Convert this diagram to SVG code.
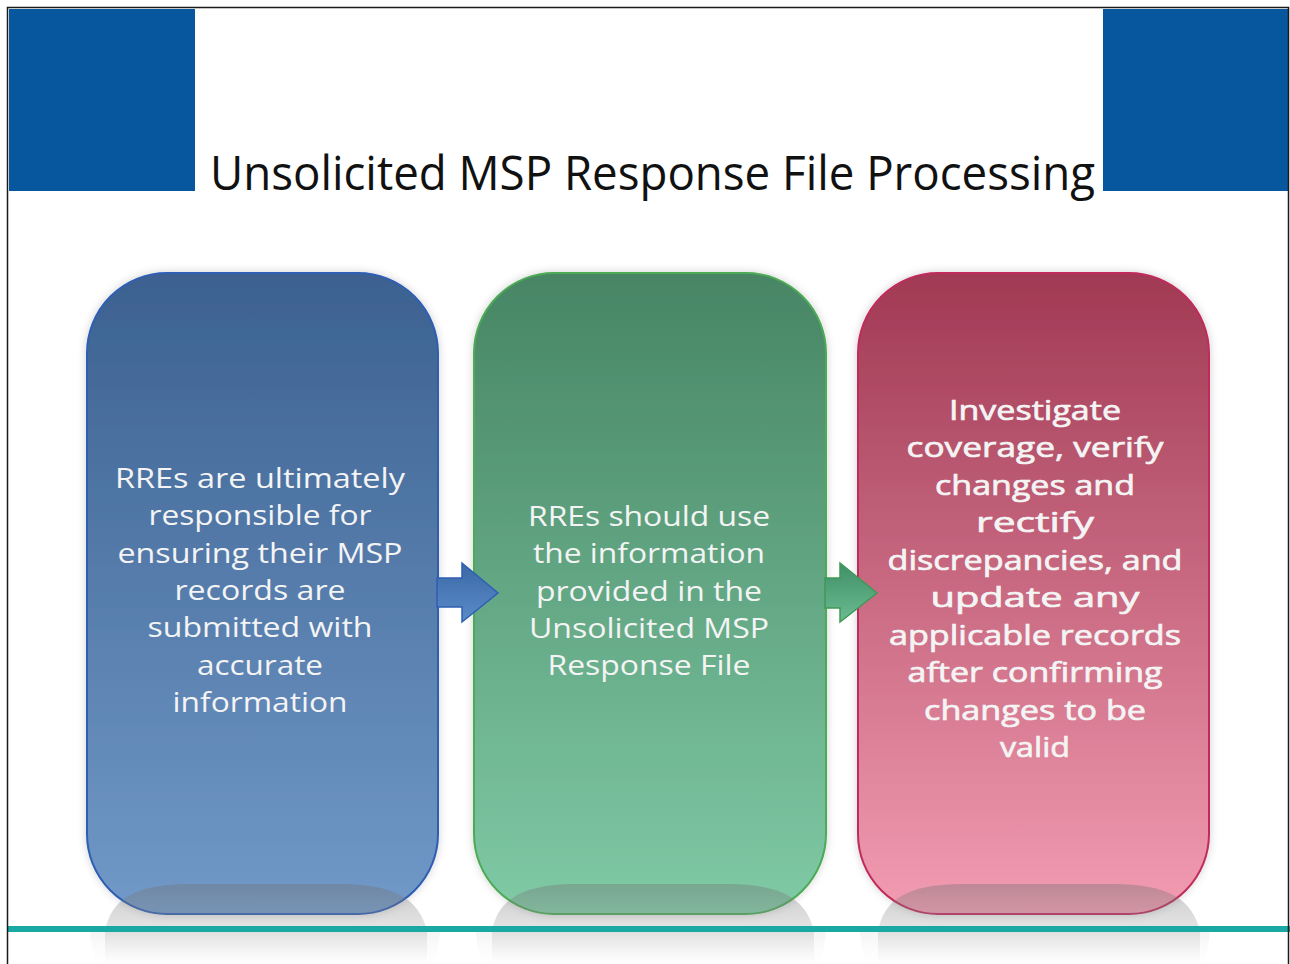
<svg xmlns="http://www.w3.org/2000/svg" width="1290" height="964" viewBox="0 0 1290 964">
  <defs>
    <style>
      .title { font-family: "Open Sans", "Liberation Sans", sans-serif; font-size: 48px; fill: #111111; }
      .lbl { font-family: "Open Sans", "Liberation Sans", sans-serif; font-size: 28px; fill: #F4F4F4; text-anchor: middle; }
      .lblb { stroke: #F4F4F4; stroke-width: 0.7px; }
      .band { fill: #07579F; }
    </style>
    <linearGradient id="gBlue" x1="0" y1="0" x2="0" y2="1">
      <stop offset="0" stop-color="#3C6190"/>
      <stop offset="1" stop-color="#7199C8"/>
    </linearGradient>
    <linearGradient id="gGreen" x1="0" y1="0" x2="0" y2="1">
      <stop offset="0" stop-color="#478564"/>
      <stop offset="1" stop-color="#80CAA6"/>
    </linearGradient>
    <linearGradient id="gRed" x1="0" y1="0" x2="0" y2="1">
      <stop offset="0" stop-color="#A13953"/>
      <stop offset="1" stop-color="#F29CB2"/>
    </linearGradient>
    <linearGradient id="gMound" x1="0" y1="0" x2="0" y2="1">
      <stop offset="0" stop-color="#707070" stop-opacity="0.38"/>
      <stop offset="0.55" stop-color="#909090" stop-opacity="0.25"/>
      <stop offset="1" stop-color="#b0b0b0" stop-opacity="0"/>
    </linearGradient>
    <linearGradient id="gRefl" x1="0" y1="0" x2="0" y2="1">
      <stop offset="0" stop-color="#d0d0d0" stop-opacity="0.22"/>
      <stop offset="1" stop-color="#e8e8e8" stop-opacity="0"/>
    </linearGradient>
    <linearGradient id="gArrowB" x1="0" y1="0" x2="0" y2="1">
      <stop offset="0" stop-color="#3A68A6"/>
      <stop offset="1" stop-color="#5B8CC8"/>
    </linearGradient>
    <linearGradient id="gArrowG" x1="0" y1="0" x2="0" y2="1">
      <stop offset="0" stop-color="#3F8F68"/>
      <stop offset="1" stop-color="#6CBB92"/>
    </linearGradient>
    <filter id="shadow" x="-10%" y="-10%" width="120%" height="120%">
      <feDropShadow dx="0" dy="0" stdDeviation="4" flood-color="#000000" flood-opacity="0.18"/>
    </filter>
  </defs>

  <rect x="0" y="0" width="1290" height="964" fill="#FFFFFF"/>

  <!-- header -->
  <g id="header">
    <rect class="band" x="9" y="9" width="186" height="182"/>
    <rect class="band" x="1103" y="9" width="186" height="182"/>
    <text class="title" x="210" y="190" textLength="885" lengthAdjust="spacingAndGlyphs">Unsolicited MSP Response File Processing</text>
  </g>

  <!-- reflections below baseline -->
  <g id="reflections">
    <path d="M90,932 L440,932 C439,945 436,956 432,964 L98,964 C94,956 91,945 90,932 Z" fill="url(#gRefl)"/>
    <path d="M476,932 L826,932 C825,945 822,956 818,964 L484,964 C480,956 477,945 476,932 Z" fill="url(#gRefl)"/>
    <path d="M860,932 L1210,932 C1209,945 1206,956 1202,964 L868,964 C864,956 861,945 860,932 Z" fill="url(#gRefl)"/>
  </g>

  <!-- node 1 -->
  <g id="node-1">
    <rect x="87" y="273" width="351" height="641" rx="80" ry="80" fill="url(#gBlue)" stroke="#2F5EB4" stroke-width="2" filter="url(#shadow)"/>
    <path d="M105,932 C110,898 138,884 190,884 L340,884 C392,884 420,898 427,932 L427,964 L105,964 Z" fill="url(#gMound)"/>
    <text class="lbl" x="260" y="488" textLength="290" lengthAdjust="spacingAndGlyphs">RREs are ultimately</text>
    <text class="lbl" x="260" y="525" textLength="223" lengthAdjust="spacingAndGlyphs">responsible for</text>
    <text class="lbl" x="260" y="563" textLength="285" lengthAdjust="spacingAndGlyphs">ensuring their MSP</text>
    <text class="lbl" x="260" y="600" textLength="171" lengthAdjust="spacingAndGlyphs">records are</text>
    <text class="lbl" x="260" y="637" textLength="225" lengthAdjust="spacingAndGlyphs">submitted with</text>
    <text class="lbl" x="260" y="675" textLength="126" lengthAdjust="spacingAndGlyphs">accurate</text>
    <text class="lbl" x="260" y="712" textLength="175" lengthAdjust="spacingAndGlyphs">information</text>
  </g>

  <!-- node 2 -->
  <g id="node-2">
    <rect x="474" y="273" width="352" height="641" rx="80" ry="80" fill="url(#gGreen)" stroke="#4DAA55" stroke-width="2" filter="url(#shadow)"/>
    <path d="M492,932 C497,898 525,884 577,884 L727,884 C779,884 807,898 814,932 L814,964 L492,964 Z" fill="url(#gMound)"/>
    <text class="lbl" x="649" y="526" textLength="242" lengthAdjust="spacingAndGlyphs">RREs should use</text>
    <text class="lbl" x="649" y="563" textLength="232" lengthAdjust="spacingAndGlyphs">the information</text>
    <text class="lbl" x="649" y="601" textLength="226" lengthAdjust="spacingAndGlyphs">provided in the</text>
    <text class="lbl" x="649" y="638" textLength="240" lengthAdjust="spacingAndGlyphs">Unsolicited MSP</text>
    <text class="lbl" x="649" y="675" textLength="203" lengthAdjust="spacingAndGlyphs">Response File</text>
  </g>

  <!-- node 3 -->
  <g id="node-3">
    <rect x="858" y="273" width="351" height="641" rx="80" ry="80" fill="url(#gRed)" stroke="#C02C5C" stroke-width="2" filter="url(#shadow)"/>
    <path d="M878,932 C883,898 911,884 963,884 L1113,884 C1165,884 1193,898 1200,932 L1200,964 L878,964 Z" fill="url(#gMound)"/>
    <text class="lbl lblb" x="1035" y="420" textLength="172" lengthAdjust="spacingAndGlyphs">Investigate</text>
    <text class="lbl lblb" x="1035" y="457" textLength="257" lengthAdjust="spacingAndGlyphs">coverage, verify</text>
    <text class="lbl lblb" x="1035" y="495" textLength="200" lengthAdjust="spacingAndGlyphs">changes and</text>
    <text class="lbl lblb" x="1035" y="532" textLength="118" lengthAdjust="spacingAndGlyphs">rectify</text>
    <text class="lbl lblb" x="1035" y="570" textLength="295" lengthAdjust="spacingAndGlyphs">discrepancies, and</text>
    <text class="lbl lblb" x="1035" y="607" textLength="209" lengthAdjust="spacingAndGlyphs">update any</text>
    <text class="lbl lblb" x="1035" y="645" textLength="292" lengthAdjust="spacingAndGlyphs">applicable records</text>
    <text class="lbl lblb" x="1035" y="682" textLength="255" lengthAdjust="spacingAndGlyphs">after confirming</text>
    <text class="lbl lblb" x="1035" y="720" textLength="222" lengthAdjust="spacingAndGlyphs">changes to be</text>
    <text class="lbl lblb" x="1035" y="757" textLength="70" lengthAdjust="spacingAndGlyphs">valid</text>
  </g>

  <!-- connectors -->
  <g id="connectors">
    <path d="M437,578 L462,578 L462,563 L498,593 L462,622 L462,607 L437,607 Z" fill="url(#gArrowB)" stroke="#2F5EB4" stroke-width="1.5" stroke-linejoin="miter"/>
    <path d="M825,578 L840,578 L840,563 L877,593 L840,622 L840,608 L825,608 Z" fill="url(#gArrowG)" stroke="#3E9A55" stroke-width="1.5" stroke-linejoin="miter"/>
  </g>

  <!-- baseline and frame -->
  <rect x="8" y="926" width="1282" height="6" fill="#1AA9A2"/>
  <path d="M7.5,970 L7.5,7.5 L1288.5,7.5 L1288.5,970" fill="none" stroke="#1A1A1A" stroke-width="1.5"/>
</svg>
